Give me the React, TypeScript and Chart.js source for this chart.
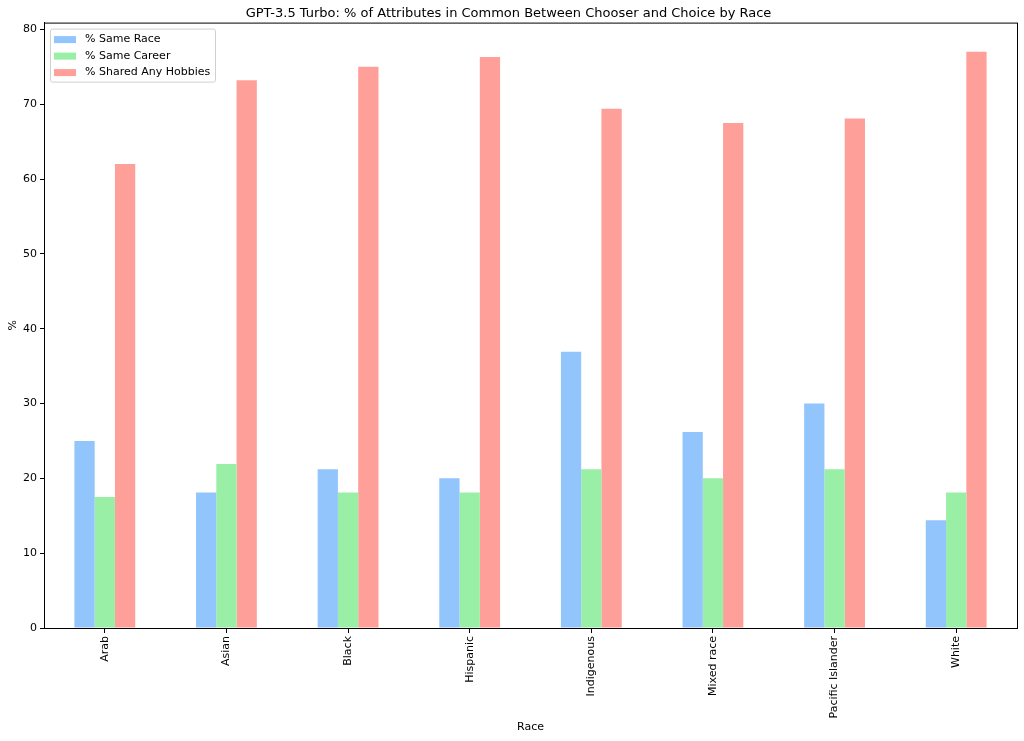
import { useEffect, useRef } from 'react';
import { Chart, registerables } from 'chart.js';

Chart.register(...registerables);

const categories = ['Arab', 'Asian', 'Black', 'Hispanic', 'Indigenous', 'Mixed race', 'Pacific Islander', 'White'];
const sameRace = [25.0, 18.1, 21.2, 20.0, 36.9, 26.2, 30.0, 14.4];
const sameCareer = [17.5, 21.9, 18.1, 18.1, 21.2, 20.0, 21.2, 18.1];
const sharedHobbies = [62.0, 73.2, 75.0, 76.3, 69.4, 67.5, 68.1, 77.0];
const seriesLabels = ['% Same Race', '% Same Career', '% Shared Any Hobbies'];

const FONT = "'DejaVu Sans', sans-serif";
const fill = ['rgb(147,197,253)', 'rgb(152,239,165)', 'rgb(255,159,153)'];

// matplotlib-style box around the axes
const framePlugin = {
  id: 'frame',
  afterDatasetsDraw(chart: Chart) {
    const { ctx, chartArea: a } = chart;
    ctx.save();
    ctx.strokeStyle = '#000';
    ctx.lineWidth = 1;
    ctx.strokeRect(a.left + 0.5, a.top + 0.5, a.right - a.left, a.bottom - a.top);
    ctx.restore();
  },
};

// legend drawn inside the plot, upper left
const innerLegend = {
  id: 'innerLegend',
  afterDraw(chart: Chart) {
    const { ctx, chartArea: a } = chart;
    const x = a.left + 6;
    const y = a.top + 6;
    const w = 165;
    const h = 53;
    ctx.save();
    ctx.fillStyle = 'rgba(255,255,255,0.8)';
    ctx.strokeStyle = '#d0d0d0';
    ctx.lineWidth = 1;
    ctx.beginPath();
    ctx.roundRect(x + 0.5, y + 0.5, w, h, 2);
    ctx.fill();
    ctx.stroke();
    ctx.font = `11px ${FONT}`;
    ctx.textBaseline = 'middle';
    chart.data.datasets.forEach((ds, i) => {
      const cy = y + 11 + i * 16.5;
      ctx.fillStyle = ds.backgroundColor as string;
      ctx.fillRect(x + 4, cy - 3.5, 22, 7);
      ctx.fillStyle = '#000';
      ctx.fillText(ds.label as string, x + 35, cy);
    });
    ctx.restore();
  },
};

function BarChart() {
  const canvasRef = useRef<HTMLCanvasElement>(null);
  const chartRef = useRef<Chart | null>(null);

  useEffect(() => {
    if (!canvasRef.current) return;
    chartRef.current?.destroy();
    const series = [sameRace, sameCareer, sharedHobbies];
    chartRef.current = new Chart(canvasRef.current, {
      type: 'bar',
      data: {
        labels: categories,
        datasets: series.map((data, i) => ({
          label: seriesLabels[i],
          data,
          backgroundColor: fill[i],
          borderWidth: 0,
          categoryPercentage: 0.5,
          barPercentage: 1,
        })),
      },
      options: {
        responsive: true,
        maintainAspectRatio: false,
        animation: false,
        layout: { padding: { left: 0, right: 7, top: 0, bottom: 0 } },
        plugins: {
          legend: { display: false },
          tooltip: { enabled: false },
          title: {
            display: true,
            text: 'GPT-3.5 Turbo: % of Attributes in Common Between Chooser and Choice by Race',
            color: '#000',
            font: { family: FONT, size: 13, weight: 'normal' },
            padding: { top: 6, bottom: 1 },
          },
        },
        scales: {
          x: {
            grid: { display: true, offset: false, drawOnChartArea: false, drawTicks: true, tickLength: 5, color: '#000' },
            border: { display: true, color: '#000' },
            ticks: {
              color: '#000',
              font: { family: FONT, size: 11 },
              maxRotation: 90,
              minRotation: 90,
              padding: 3,
            },
            title: {
              display: true,
              text: 'Race',
              color: '#000',
              font: { family: FONT, size: 11 },
              padding: { top: 0, bottom: 7 },
            },
            afterFit: (scale: any) => {
              scale.height = 113;
            },
          },
          y: {
            min: 0,
            max: 80.9,
            grid: { display: true, drawOnChartArea: false, drawTicks: true, tickLength: 4, color: '#000' },
            border: { display: true, color: '#000' },
            ticks: {
              stepSize: 10,
              includeBounds: false,
              color: '#000',
              font: { family: FONT, size: 11 },
              padding: 3,
            },
            title: {
              display: true,
              text: '%',
              color: '#000',
              font: { family: FONT, size: 11 },
              padding: { top: 7, bottom: 0 },
            },
            afterFit: (scale: any) => {
              scale.width = 44;
            },
          },
        },
      },
      plugins: [framePlugin, innerLegend],
    });
    return () => chartRef.current?.destroy();
  }, []);

  return (
    <div style={{ position: 'fixed', left: 0, top: 0, width: '1024px', height: '741px', background: '#fff' }}>
      <canvas
        ref={canvasRef}
        role="img"
        aria-label="Bar chart: % of attributes in common between chooser and choice by race"
      />
    </div>
  );
}

export default function App() {
  return <BarChart />;
}
